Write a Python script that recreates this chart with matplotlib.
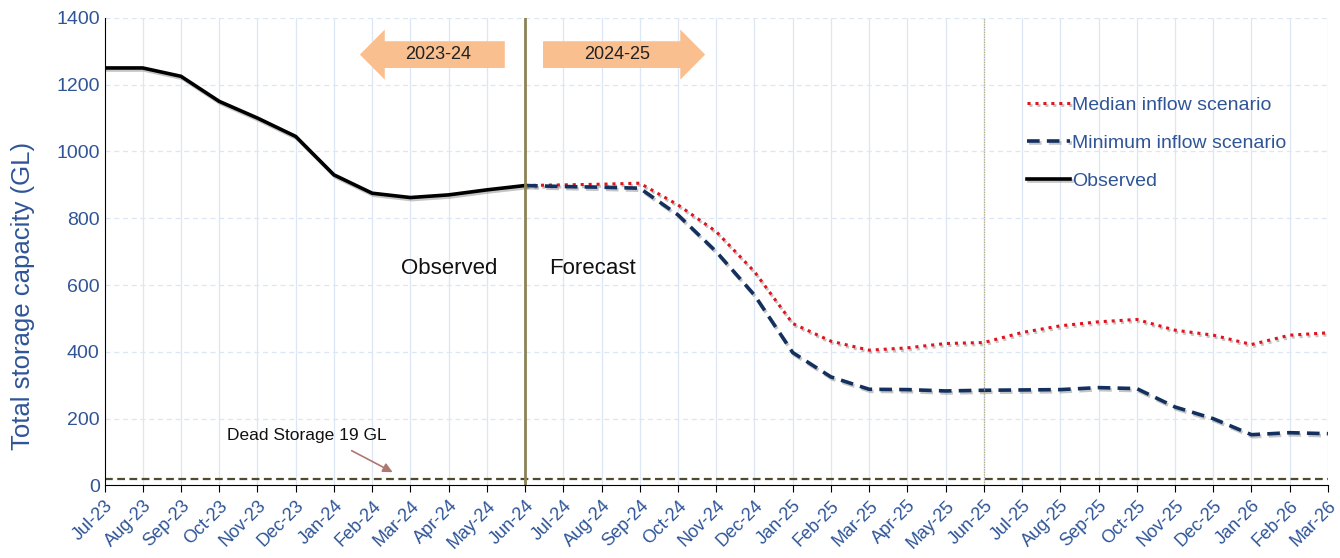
import matplotlib.pyplot as plt
import matplotlib.patheffects as pe
from matplotlib.patches import FancyArrow
import numpy as np

plt.rcParams["font.family"] = ["Liberation Sans", "DejaVu Sans"]

# months on the x axis
months = ["Jul-23", "Aug-23", "Sep-23", "Oct-23", "Nov-23", "Dec-23", "Jan-24", "Feb-24",
          "Mar-24", "Apr-24", "May-24", "Jun-24", "Jul-24", "Aug-24", "Sep-24", "Oct-24",
          "Nov-24", "Dec-24", "Jan-25", "Feb-25", "Mar-25", "Apr-25", "May-25", "Jun-25",
          "Jul-25", "Aug-25", "Sep-25", "Oct-25", "Nov-25", "Dec-25", "Jan-26", "Feb-26",
          "Mar-26"]

# observed storage, Jul-23 .. Jun-24 (GL)
observed = [1250, 1250, 1225, 1150, 1100, 1045, 930, 875, 862, 870, 885, 898]

# forecasts, Jun-24 .. Mar-26 (GL)
median_inflow = [898, 900, 902, 905, 840, 760, 640, 485, 432, 405, 412, 425, 428,
                 458, 478, 490, 497, 465, 450, 422, 450, 457]
minimum_inflow = [898, 895, 893, 890, 810, 700, 570, 398, 325, 288, 287, 283, 285,
                  286, 287, 293, 290, 235, 200, 152, 158, 155]

dead_storage = 19

blue_txt = "#2f5597"
x = np.arange(len(months))
x_obs = x[:len(observed)]
x_fc = x[len(observed) - 1:]

fig, ax = plt.subplots(figsize=(13.4, 5.58), dpi=100)
fig.subplots_adjust(left=0.078, right=0.991, top=0.968, bottom=0.13)

shadow = [pe.SimpleLineShadow(offset=(1, -1.5), shadow_color="0.5", alpha=0.45), pe.Normal()]

ax.plot(x_fc, median_inflow, color="#e0141e", linestyle=(0, (1, 1.6)), lw=2.2,
        label="Median inflow scenario", path_effects=shadow)
ax.plot(x_fc, minimum_inflow, color="#14305e", linestyle=(0, (3.5, 2)), lw=2.6,
        label="Minimum inflow scenario", path_effects=shadow)
ax.plot(x_obs, observed, color="black", lw=2.6, label="Observed", path_effects=shadow)

ax.axhline(dead_storage, color="#4f4b30", linestyle=(0, (3.5, 2)), lw=1.6)
ax.axvline(11, color="#8c8255", lw=2.0)
ax.axvline(23, color="#b5ad80", lw=0.9, linestyle=(0, (1, 1)))

# grid
for xi in x[1:]:
    ax.axvline(xi, color="#dce6f4", lw=0.9, zorder=0)
for yi in range(200, 1401, 200):
    ax.axhline(yi, color="#dce6f4", lw=0.9, linestyle=(0, (4, 3)), zorder=0)

# season arrows
ax.add_patch(FancyArrow(10.47, 1290, -3.79, 0, width=80, head_width=150, head_length=0.65,
                        length_includes_head=True, fc="#f9bf8f", ec="none", zorder=3))
ax.text(8.72, 1290, "2023-24", ha="center", va="center", fontsize=13, color="#222222", zorder=4)
ax.add_patch(FancyArrow(11.47, 1290, 4.24, 0, width=80, head_width=150, head_length=0.65,
                        length_includes_head=True, fc="#f9bf8f", ec="none", zorder=3))
ax.text(13.4, 1290, "2024-25", ha="center", va="center", fontsize=13, color="#222222", zorder=4)

ax.text(7.75, 650, "Observed", ha="left", va="center", fontsize=16, color="#111111")
ax.text(11.62, 650, "Forecast", ha="left", va="center", fontsize=16, color="#111111")

ax.annotate("", xy=(7.6, 36), xytext=(6.4, 108),
            arrowprops=dict(arrowstyle="-|>", color="#b07670", lw=1.2, mutation_scale=14))
ax.text(3.2, 150, "Dead Storage 19 GL", ha="left", va="center", fontsize=12.5, color="#111111")

leg = ax.legend(loc="upper left", bbox_to_anchor=(0.74, 0.87), frameon=False, fontsize=14,
                handlelength=2.2, handletextpad=0.1, labelspacing=1.05)
for t in leg.get_texts():
    t.set_color(blue_txt)

ax.set_xlim(0, len(months) - 1)
ax.set_ylim(0, 1400)
ax.set_yticks(range(0, 1401, 200))
ax.set_xticks(x)
ax.set_xticklabels(months, rotation=45, ha="right", rotation_mode="anchor", fontsize=13,
                   color=blue_txt)
ax.tick_params(axis="y", labelsize=14, labelcolor=blue_txt, length=0)
ax.tick_params(axis="x", direction="out", length=5, color="black")
ax.set_ylabel("Total storage capacity (GL)", fontsize=18.5, color=blue_txt)
ax.yaxis.set_label_coords(-0.057, 0.405)
for s in ["top", "right"]:
    ax.spines[s].set_visible(False)

fig.savefig("out.png")
